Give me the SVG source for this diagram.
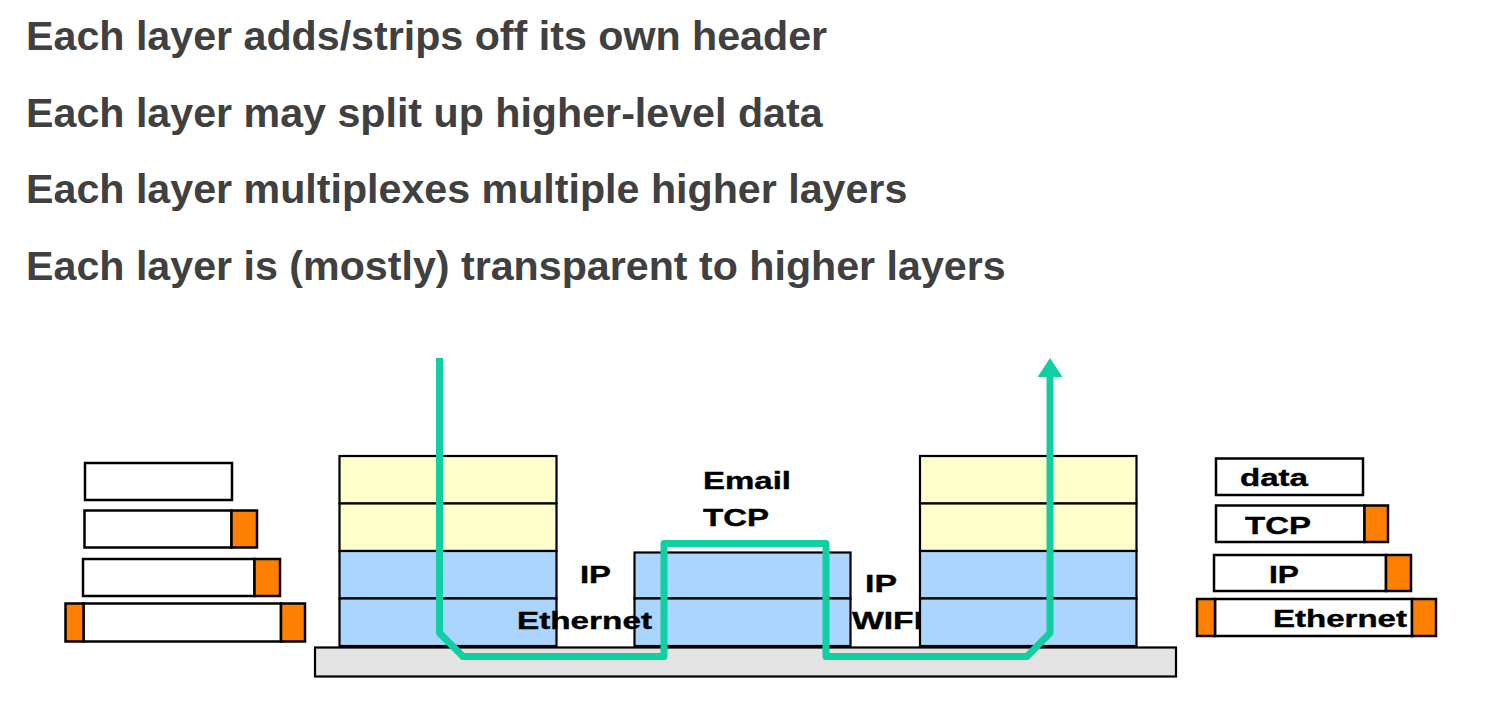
<svg xmlns="http://www.w3.org/2000/svg" width="1491" height="710" viewBox="0 0 1491 710">
<style>
.hd{font-family:"Liberation Sans",Arial,sans-serif;font-weight:bold;font-size:41.2px;fill:#404040}
.lb{font-family:"Liberation Sans",Arial,sans-serif;font-weight:bold;font-size:24.5px;fill:#000;stroke:#000;stroke-width:0.4}
.yl{fill:#FFFFCC;stroke:#000;stroke-width:2.2}
.bl{fill:#AAD5FF;stroke:#000;stroke-width:2.2}
.pk{fill:#fff;stroke:#000;stroke-width:2.5}
.hdr{fill:#FF8000;stroke:#000;stroke-width:2.5}
.base{fill:#E3E3E3;stroke:#000;stroke-width:2.2}
.flow{fill:none;stroke:#12CFA2;stroke-width:7;stroke-linejoin:round}
</style>
<defs>
<marker id="arr" markerUnits="userSpaceOnUse" markerWidth="19" markerHeight="25" refX="0" refY="12.5" orient="auto" viewBox="0 0 19 25">
<path d="M0,0 L19,12.5 L0,25 z" fill="#12CFA2"/>
</marker>
</defs>
<rect width="1491" height="710" fill="#fff"/>
<g id="headings">
<text class="hd" x="26" y="50">Each layer adds/strips off its own header</text>
<text class="hd" x="26" y="127">Each layer may split up higher-level data</text>
<text class="hd" x="26" y="203">Each layer multiplexes multiple higher layers</text>
<text class="hd" x="26" y="280">Each layer is (mostly) transparent to higher layers</text>
</g>
<g id="network-base">
<rect class="base" x="315" y="647.5" width="861" height="29"/>
</g>
<g id="left-packets">
<rect class="pk" x="85" y="463" width="147" height="37"/>
<rect class="pk" x="84.5" y="510.5" width="147" height="37"/>
<rect class="hdr" x="231.5" y="510.5" width="25.5" height="37"/>
<rect class="pk" x="83" y="559" width="171.5" height="37"/>
<rect class="hdr" x="254.5" y="559" width="25.5" height="37"/>
<rect class="pk" x="83.5" y="603.5" width="197.5" height="38"/>
<rect class="hdr" x="65.5" y="603.5" width="18" height="38"/>
<rect class="hdr" x="281" y="603.5" width="24" height="38"/>
</g>
<g id="left-host">
<rect class="yl" x="339.5" y="456" width="217" height="47.5"/>
<rect class="yl" x="339.5" y="503.5" width="217" height="47.5"/>
<rect class="bl" x="339.5" y="551" width="217" height="47.5"/>
<rect class="bl" x="339.5" y="598.5" width="217" height="47.5"/>
</g>
<g id="router">
<rect class="bl" x="634.5" y="552.5" width="216" height="46"/>
<rect class="bl" x="634.5" y="598.5" width="216" height="47.5"/>
</g>
<g id="labels">
<text class="lb" x="703" y="489" textLength="88" lengthAdjust="spacingAndGlyphs">Email</text>
<text class="lb" x="703" y="526" textLength="66" lengthAdjust="spacingAndGlyphs">TCP</text>
<text class="lb" x="580" y="583" textLength="31" lengthAdjust="spacingAndGlyphs">IP</text>
<text class="lb" x="517" y="629" textLength="135" lengthAdjust="spacingAndGlyphs">Ethernet</text>
<text class="lb" x="865" y="592" textLength="32" lengthAdjust="spacingAndGlyphs">IP</text>
<text class="lb" x="852" y="629" textLength="71" lengthAdjust="spacingAndGlyphs">WIFI</text>
</g>
<g id="right-host">
<rect class="yl" x="920" y="456" width="216.5" height="47.5"/>
<rect class="yl" x="920" y="503.5" width="216.5" height="47.5"/>
<rect class="bl" x="920" y="551" width="216.5" height="47.5"/>
<rect class="bl" x="920" y="598.5" width="216.5" height="47.5"/>
</g>
<g id="right-packets">
<rect class="pk" x="1216" y="458.5" width="147" height="36.5"/>
<text class="lb" x="1240" y="486" textLength="68" lengthAdjust="spacingAndGlyphs">data</text>
<rect class="pk" x="1216" y="505.5" width="148.5" height="36.5"/>
<rect class="hdr" x="1364.5" y="505.5" width="23.5" height="36.5"/>
<text class="lb" x="1245" y="534" textLength="66" lengthAdjust="spacingAndGlyphs">TCP</text>
<rect class="pk" x="1214" y="555" width="172" height="36"/>
<rect class="hdr" x="1386" y="555" width="25" height="36"/>
<text class="lb" x="1269" y="583" textLength="30" lengthAdjust="spacingAndGlyphs">IP</text>
<rect class="pk" x="1215" y="599" width="197" height="37"/>
<rect class="hdr" x="1197" y="599" width="18" height="37"/>
<rect class="hdr" x="1412" y="599" width="24" height="37"/>
<text class="lb" x="1273" y="627" textLength="134" lengthAdjust="spacingAndGlyphs">Ethernet</text>
</g>
<g id="connectors">
<path class="flow" marker-end="url(#arr)" d="M439.5,358 V633 L463,656.5 H664 V543.5 H826 V656.5 H1027 L1050,633 V377"/>
</g>
</svg>
